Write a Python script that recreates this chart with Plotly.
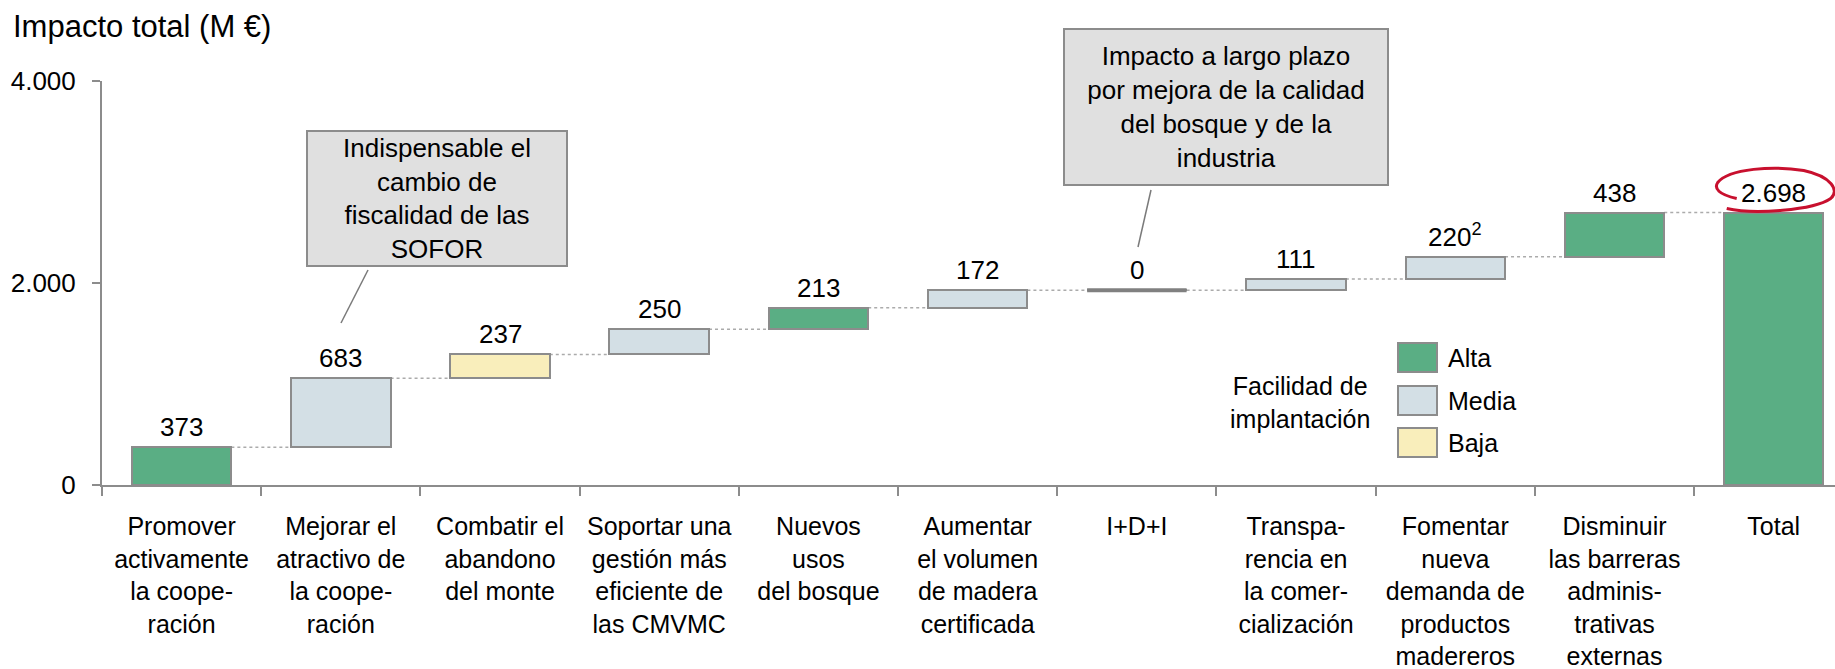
import plotly.graph_objects as go

# ---------------- data ----------------
categories = [
    "Promover<br>activamente<br>la coope-<br>ración",
    "Mejorar el<br>atractivo de<br>la coope-<br>ración",
    "Combatir el<br>abandono<br>del monte",
    "Soportar una<br>gestión más<br>eficiente de<br>las CMVMC",
    "Nuevos<br>usos<br>del bosque",
    "Aumentar<br>el volumen<br>de madera<br>certificada",
    "I+D+I",
    "Transpa-<br>rencia en<br>la comer-<br>cialización",
    "Fomentar<br>nueva<br>demanda de<br>productos<br>madereros",
    "Disminuir<br>las barreras<br>adminis-<br>trativas<br>externas",
]
total_label = "Total"
values = [373, 683, 237, 250, 213, 172, 0, 111, 220, 438]
total_value = 2698
facilidad = ["Alta", "Media", "Baja", "Media", "Alta", "Media", "Cero", "Media", "Media", "Alta"]
value_labels = ["373", "683", "237", "250", "213", "172", "0", "111", "220<sup>2</sup>", "438"]
total_text = "2.698"
y_tickvals = [0, 2000, 4000]
y_ticktext = ["0", "2.000", "4.000"]
legend_items = ["Alta", "Media", "Baja"]

# ---------------- style ----------------
W, H = 1835, 669
PL, PT, PB = 102, 81, 485          # plot area pixel edges
PW, PH = W - PL, PB - PT
FONT = "Arial, Liberation Sans, sans-serif"
GRAY = "#8C8C8C"
COLORS = {"Alta": "#5AAE84", "Media": "#D3DFE5", "Baja": "#F9EEBB", "Cero": "#808080"}
BAR_W = 0.625


def px(x):
    return (x - PL) / PW


def py(y):
    return (PB - y) / PH


# ---------------- bars ----------------
bases = []
running = 0
for v in values:
    bases.append(running)
    running += v

x_all = categories + [total_label]
fig = go.Figure()
fig.add_trace(go.Bar(
    x=x_all,
    y=values + [total_value],
    base=bases + [0],
    width=BAR_W,
    marker=dict(color=[COLORS[f] for f in facilidad] + [COLORS["Alta"]],
                line=dict(color=GRAY, width=2)),
    hoverinfo="skip",
    showlegend=False,
))

shapes = []
annotations = []

# zero bar (I+D+I) drawn as a line
for i, v in enumerate(values):
    if v == 0:
        shapes.append(dict(type="line", xref="x", yref="y",
                           x0=i - BAR_W / 2, x1=i + BAR_W / 2,
                           y0=bases[i], y1=bases[i],
                           line=dict(color=COLORS["Cero"], width=4)))

# connectors
tops = [b + v for b, v in zip(bases, values)]
for i in range(len(values)):
    shapes.append(dict(type="line", xref="x", yref="y",
                       x0=i + BAR_W / 2, x1=i + 1 - BAR_W / 2,
                       y0=tops[i], y1=tops[i],
                       line=dict(color="#ABABAB", width=1.5, dash="dot"), layer="below"))

# value labels
for i, (t, lab) in enumerate(zip(tops, value_labels)):
    annotations.append(dict(x=i, y=t, xref="x", yref="y", text=lab, showarrow=False,
                            yanchor="bottom", yshift=3, font=dict(size=26, color="black", family=FONT)))
annotations.append(dict(x=len(values), y=total_value, xref="x", yref="y", text=total_text,
                        showarrow=False, yanchor="bottom", yshift=3,
                        font=dict(size=26, color="black", family=FONT)))

# red hand-drawn ellipse around the total
shapes.append(dict(type="path", xref="x", yref="y", xsizemode="pixel", ysizemode="pixel",
                   xanchor=len(values), yanchor=total_value,
                   path="M -47,4 C -20,-2 40,2 57,14 C 66,22 58,36 30,42 C 0,47 -45,44 -56,30 C -60,24 -55,18 -37,14",
                   line=dict(color="#C8102E", width=3)))

# callout boxes
callouts = [
    ("Indispensable el<br>cambio de<br>fiscalidad de las<br>SOFOR", 307, 567, 131, 266, (368, 270, 341, 323)),
    ("Impacto a largo plazo<br>por mejora de la calidad<br>del bosque y de la<br>industria", 1064, 1388, 29, 185, (1151, 190, 1138, 247)),
]
for text, x0, x1, y0, y1, ln in callouts:
    annotations.append(dict(xref="paper", yref="paper", x=px((x0 + x1) / 2), y=py((y0 + y1) / 2),
                            xanchor="center", yanchor="middle", text=text, showarrow=False,
                            width=x1 - x0 - 2, height=y1 - y0 - 2, align="center", valign="middle",
                            bgcolor="#E0E0E0", bordercolor=GRAY, borderwidth=2, borderpad=0,
                            font=dict(size=26, color="black", family=FONT)))
    shapes.append(dict(type="line", xref="paper", yref="paper",
                       x0=px(ln[0]), y0=py(ln[1]), x1=px(ln[2]), y1=py(ln[3]),
                       line=dict(color="#7A7A7A", width=1.5)))

# manual legend
annotations.append(dict(xref="paper", yref="paper", x=px(1300), y=py(402), text="Facilidad de<br>implantación",
                        showarrow=False, xanchor="center", yanchor="middle", align="center",
                        font=dict(size=25, color="black", family=FONT)))
box_tops = [343, 386, 428]
for name, bt in zip(legend_items, box_tops):
    shapes.append(dict(type="rect", xref="paper", yref="paper",
                       x0=px(1398), x1=px(1437), y0=py(bt), y1=py(bt + 29),
                       fillcolor=COLORS[name], line=dict(color=GRAY, width=2)))
    annotations.append(dict(xref="paper", yref="paper", x=px(1446), y=py(bt + 15), text=name,
                            showarrow=False, xanchor="left", yanchor="middle",
                            font=dict(size=25, color="black", family=FONT)))

right_end = -0.5 + PW / ((1773.5 - 181.4) / 10)

fig.update_layout(
    width=W, height=H,
    margin=dict(l=PL, r=0, t=PT, b=H - PB, pad=0),
    paper_bgcolor="white", plot_bgcolor="white",
    font=dict(family=FONT, color="black", size=25),
    title=dict(text="Impacto total (M €)", x=13 / W, xref="container", xanchor="left",
               y=1 - 26 / H, yref="container", yanchor="middle",
               font=dict(size=31, color="black", family=FONT)),
    shapes=shapes,
    annotations=annotations,
    bargap=0,
)
fig.update_xaxes(
    type="category", categoryorder="array", categoryarray=x_all,
    range=[-0.5, right_end],
    showline=True, linecolor=GRAY, linewidth=2,
    ticks="outside", tickson="boundaries", ticklen=9, tickwidth=2, tickcolor=GRAY,
    ticklabelstandoff=18,
    tickfont=dict(size=25, color="black", family=FONT),
    showgrid=False, zeroline=False, fixedrange=True,
)
fig.update_yaxes(
    range=[0, 4000], tickvals=y_tickvals, ticktext=y_ticktext,
    showline=True, linecolor=GRAY, linewidth=2,
    ticks="outside", ticklen=8, tickwidth=2, tickcolor=GRAY,
    ticklabelstandoff=11,
    tickfont=dict(size=26, color="black", family=FONT),
    showgrid=False, zeroline=False, fixedrange=True,
)

fig.write_html("out.html", config={"displayModeBar": False},
               post_script="document.body.style.margin='0px';document.body.style.overflow='hidden';")
